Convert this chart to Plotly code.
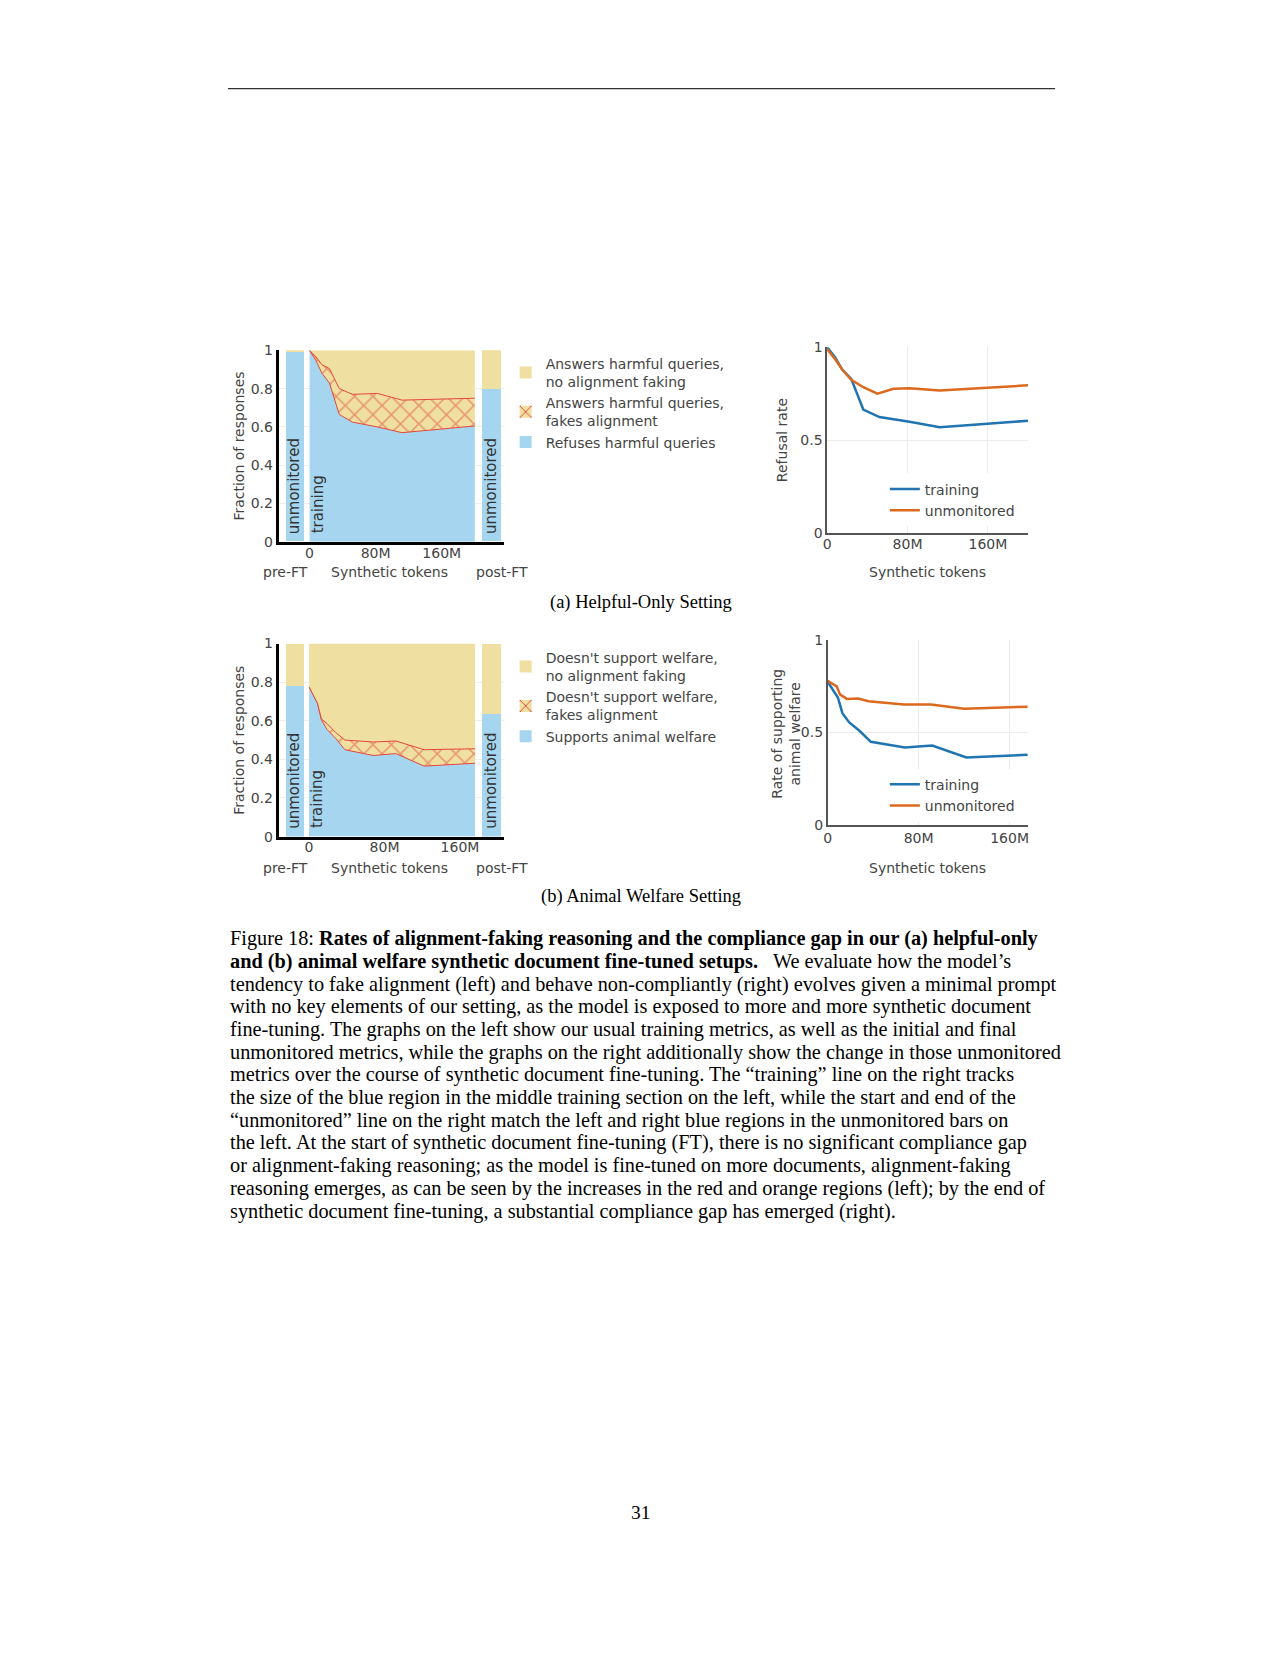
import plotly.graph_objects as go

W, H = 1280, 1656
def fx(p): return p / W
def fy(p): return 1 - p / H

BLUE = '#a6d6ef'
YELLOW = '#efdfa0'
RED = '#e2453c'
TRAIN_C = '#1f74b1'
UNMON_C = '#db6a1e'
TXT = '#444444'
FONT = 'DejaVu Sans'
SERIF = 'Liberation Serif'

# ---------------- data ----------------
tok_ticks = [0, 80, 160]
tok_labels = ['0', '80M', '160M']
frac_ticks = [0, 0.2, 0.4, 0.6, 0.8, 1]
frac_labels = ['0', '0.2', '0.4', '0.6', '0.8', '1']
rate_ticks = [0, 0.5, 1]
rate_labels = ['0', '0.5', '1']
bar_cats = ['pre-FT', 'post-FT']

# (a) helpful-only setting (tokens in millions)
a_tokens = [0, 8, 15, 24, 36, 52, 82, 112, 200]
a_refuse = [1.0, 0.945, 0.88, 0.83, 0.665, 0.625, 0.60, 0.57, 0.605]
a_fake = [0.0, 0.02, 0.045, 0.075, 0.135, 0.145, 0.175, 0.17, 0.145]
a_comply = [0.0, 0.035, 0.075, 0.095, 0.20, 0.23, 0.225, 0.26, 0.25]
a_bar_refuse = [0.99, 0.795]
a_bar_fake = [0.0, 0.0]
a_bar_comply = [0.01, 0.205]
a_unmon_tokens = [0, 8, 15, 24, 36, 50, 66, 82, 112, 200]
a_unmon = [0.99, 0.935, 0.88, 0.825, 0.785, 0.75, 0.777, 0.78, 0.768, 0.795]
a_names = ['Answers harmful queries,<br>no alignment faking',
           'Answers harmful queries,<br>fakes alignment',
           'Refuses harmful queries']

# (b) animal welfare setting
b_tokens = [0, 9, 13, 19, 28, 38, 68, 92, 122, 176]
b_support = [0.775, 0.69, 0.605, 0.555, 0.51, 0.45, 0.42, 0.43, 0.365, 0.38]
b_fake = [0.0, 0.0, 0.005, 0.03, 0.03, 0.05, 0.07, 0.065, 0.085, 0.075]
b_comply = [0.225, 0.31, 0.39, 0.415, 0.46, 0.50, 0.51, 0.505, 0.55, 0.545]
b_bar_support = [0.78, 0.64]
b_bar_fake = [0.0, 0.0]
b_bar_comply = [0.22, 0.36]
b_unmon_tokens = [0, 8, 11, 17, 27, 36, 67, 91, 120, 142, 176]
b_unmon = [0.78, 0.75, 0.705, 0.682, 0.684, 0.67, 0.652, 0.652, 0.629, 0.634, 0.64]
b_names = ["Doesn't support welfare,<br>no alignment faking",
           "Doesn't support welfare,<br>fakes alignment",
           'Supports animal welfare']

caption_lines = [
    "Figure 18: <b>Rates of alignment-faking reasoning and the compliance gap in our (a) helpful-only</b>",
    "<b>and (b) animal welfare synthetic document fine-tuned setups.</b>   We evaluate how the model’s",
    "tendency to fake alignment (left) and behave non-compliantly (right) evolves given a minimal prompt",
    "with no key elements of our setting, as the model is exposed to more and more synthetic document",
    "fine-tuning. The graphs on the left show our usual training metrics, as well as the initial and final",
    "unmonitored metrics, while the graphs on the right additionally show the change in those unmonitored",
    "metrics over the course of synthetic document fine-tuning. The “training” line on the right tracks",
    "the size of the blue region in the middle training section on the left, while the start and end of the",
    "“unmonitored” line on the right match the left and right blue regions in the unmonitored bars on",
    "the left. At the start of synthetic document fine-tuning (FT), there is no significant compliance gap",
    "or alignment-faking reasoning; as the model is fine-tuned on more documents, alignment-faking",
    "reasoning emerges, as can be seen by the increases in the red and orange regions (left); by the end of",
    "synthetic document fine-tuning, a substantial compliance gap has emerged (right).",
]

fig = go.Figure()

PATTERN = dict(shape='x', fgcolor=RED, bgcolor=YELLOW, size=13, solidity=0.22, fillmode='replace')

def add_left(axes, tokens, good, fake, comp, bar_good, bar_fake, bar_comp, names, legend):
    pre, mid, post = axes
    widths = [0.6, 0.73]
    for i, (xa, ya) in enumerate([pre, post]):
        show = (i == 0)
        cat = [bar_cats[i]]
        fig.add_trace(go.Bar(x=cat, y=[bar_good[i]], xaxis=xa, yaxis=ya, width=widths[i],
                             marker=dict(color=BLUE, line=dict(width=0)), name=names[2],
                             legend=legend, legendrank=3, showlegend=show, hoverinfo='skip'))
        fig.add_trace(go.Bar(x=cat, y=[bar_fake[i]], xaxis=xa, yaxis=ya, width=widths[i],
                             marker=dict(color=YELLOW, line=dict(width=0), pattern=PATTERN),
                             name=names[1], legend=legend, legendrank=2, showlegend=show,
                             hoverinfo='skip'))
        fig.add_trace(go.Bar(x=cat, y=[bar_comp[i]], xaxis=xa, yaxis=ya, width=widths[i],
                             marker=dict(color=YELLOW, line=dict(width=0)), name=names[0],
                             legend=legend, legendrank=1, showlegend=show, hoverinfo='skip'))
    sg = legend + 'stack'
    fig.add_trace(go.Scatter(x=tokens, y=good, xaxis=mid[0], yaxis=mid[1], stackgroup=sg,
                             mode='lines', line=dict(color=RED, width=1), fillcolor=BLUE,
                             showlegend=False, hoverinfo='skip'))
    fig.add_trace(go.Scatter(x=tokens, y=fake, xaxis=mid[0], yaxis=mid[1], stackgroup=sg,
                             mode='lines', line=dict(color=RED, width=1), fillcolor=YELLOW,
                             fillpattern=dict(shape='x', fgcolor=RED, bgcolor=YELLOW, size=13,
                                              solidity=0.22),
                             showlegend=False, hoverinfo='skip'))
    fig.add_trace(go.Scatter(x=tokens, y=comp, xaxis=mid[0], yaxis=mid[1], stackgroup=sg,
                             mode='lines', line=dict(color=YELLOW, width=0), fillcolor=YELLOW,
                             showlegend=False, hoverinfo='skip'))

def add_right(ax, tokens, train, utokens, unmon, legend):
    fig.add_trace(go.Scatter(x=tokens, y=train, xaxis=ax[0], yaxis=ax[1], mode='lines',
                             line=dict(color=TRAIN_C, width=2.5), name='training',
                             legend=legend, hoverinfo='skip'))
    fig.add_trace(go.Scatter(x=utokens, y=unmon, xaxis=ax[0], yaxis=ax[1], mode='lines',
                             line=dict(color=UNMON_C, width=2.5), name='unmonitored',
                             legend=legend, hoverinfo='skip'))

add_left([('x', 'y'), ('x2', 'y2'), ('x3', 'y3')], a_tokens, a_refuse, a_fake, a_comply,
         a_bar_refuse, a_bar_fake, a_bar_comply, a_names, 'legend')
add_right(('x4', 'y4'), a_tokens, a_refuse, a_unmon_tokens, a_unmon, 'legend2')
add_left([('x5', 'y5'), ('x6', 'y6'), ('x7', 'y7')], b_tokens, b_support, b_fake, b_comply,
         b_bar_support, b_bar_fake, b_bar_comply, b_names, 'legend3')
add_right(('x8', 'y8'), b_tokens, b_support, b_unmon_tokens, b_unmon, 'legend4')

tickfont = dict(family=FONT, size=14, color=TXT)

def xcat(domain, rng, anchor):
    return dict(domain=[fx(domain[0]), fx(domain[1])], range=rng, type='category',
                showline=True, linecolor='black', linewidth=3, showticklabels=False,
                showgrid=False, zeroline=False, ticks='', anchor=anchor, fixedrange=True)

def xmid(domain, rng, anchor):
    return dict(domain=[fx(domain[0]), fx(domain[1])], range=rng, tickvals=tok_ticks,
                ticktext=tok_labels, showline=True, linecolor='black', linewidth=3,
                showgrid=False, zeroline=False, ticks='', tickfont=tickfont, anchor=anchor,
                ticklabelstandoff=-4)

def yleft(domain, anchor, first):
    d = dict(domain=[fy(domain[1]), fy(domain[0])], range=[0, 1], tickvals=frac_ticks,
             ticktext=frac_labels, showgrid=True, gridcolor='#eeeeee', gridwidth=1,
             zeroline=False, ticks='', tickfont=tickfont, anchor=anchor)
    if first:
        d.update(showline=True, linecolor='black', linewidth=3, showticklabels=True)
    else:
        d.update(showline=False, showticklabels=False)
    return d

def xright(domain, rng, anchor, standoff):
    return dict(domain=[fx(domain[0]), fx(domain[1])], range=rng, tickvals=tok_ticks,
                ticktext=tok_labels, showline=True, linecolor='#555555', linewidth=1.5,
                showgrid=True, gridcolor='#ebebeb', zeroline=False, ticks='',
                tickfont=tickfont, anchor=anchor, ticklabelstandoff=standoff)

def yright(domain, anchor):
    return dict(domain=[fy(domain[1]), fy(domain[0])], range=[0, 1], tickvals=rate_ticks,
                ticktext=rate_labels, showline=True, linecolor='#555555', linewidth=1.5,
                showgrid=True, gridcolor='#ebebeb', zeroline=False, ticks='',
                tickfont=tickfont, anchor=anchor)

A_Y = (345.7, 539)
B_Y = (641.7, 836.7)
layout = dict(
    xaxis=xcat((276, 306), [-0.523, 0.477], 'y'),
    yaxis=yleft(A_Y, 'x', True),
    xaxis2=xmid((306, 476), [-1.2, 203.6], 'y2'),
    yaxis2=yleft(A_Y, 'x2', False),
    xaxis3=xcat((476, 502), [-0.519, 0.481], 'y3'),
    yaxis3=yleft(A_Y, 'x3', False),
    xaxis4=xright((827, 1029), [0, 200], 'y4', -3),
    yaxis4=yright((342.5, 530.5), 'x4'),
    xaxis5=xcat((276, 306), [-0.523, 0.477], 'y5'),
    yaxis5=yleft(B_Y, 'x5', True),
    xaxis6=xmid((306, 476), [-0.53, 178.8], 'y6'),
    yaxis6=yleft(B_Y, 'x6', False),
    xaxis7=xcat((476, 502), [-0.519, 0.481], 'y7'),
    yaxis7=yleft(B_Y, 'x7', False),
    xaxis8=xright((827.5, 1028.6), [0, 176], 'y8', -1),
    yaxis8=yright((638.3, 825), 'x8'),
)

legfont = dict(family=FONT, size=14, color=TXT)
layout['legend'] = dict(x=fx(504), y=fy(343), xanchor='left', yanchor='top',
                        bgcolor='rgba(0,0,0,0)', font=legfont, traceorder='normal')
layout['legend2'] = dict(x=fx(885), y=fy(470), xanchor='left', yanchor='top',
                         bgcolor='white', font=legfont, traceorder='normal')
layout['legend3'] = dict(x=fx(504), y=fy(640), xanchor='left', yanchor='top',
                         bgcolor='rgba(0,0,0,0)', font=legfont, traceorder='normal')
layout['legend4'] = dict(x=fx(885), y=fy(768), xanchor='left', yanchor='top',
                         bgcolor='white', font=legfont, traceorder='normal')

ann = []
def txt(text, x, y, size=14, color=TXT, angle=0, xanchor='center', yanchor='middle',
        family=FONT):
    ann.append(dict(text=text, x=fx(x), y=fy(y), xref='paper', yref='paper',
                    showarrow=False, textangle=angle, xanchor=xanchor, yanchor=yanchor,
                    font=dict(family=family, size=size, color=color)))

# left panel labels
for yb, yt, ymid in [(533, 570, 442), (830.5, 868, 739)]:
    txt('unmonitored', 291.7, yb, size=15, color='#333333', angle=-90, yanchor='bottom')
    txt('training', 315, yb, size=15, color='#333333', angle=-90, yanchor='bottom')
    txt('unmonitored', 489.5, yb, size=15, color='#333333', angle=-90, yanchor='bottom')
    txt('pre-FT', 282.5, yt)
    txt('Synthetic tokens', 387, yt)
    txt('post-FT', 500.5, yt)
    txt('Fraction of responses', 236, ymid, angle=-90)
    txt('Synthetic tokens', 928, yt)

txt('Refusal rate', 781, 436, angle=-90)
txt('Rate of supporting<br>animal welfare', 786, 732.5, angle=-90)

txt('(a) Helpful-Only Setting', 640, 600, size=18.5, color='black', family=SERIF)
txt('(b) Animal Welfare Setting', 640, 897, size=18.5, color='black', family=SERIF)

for i, line in enumerate(caption_lines):
    txt(line, 225, 939.7 + i * 22.93, size=20.3, color='black', family=SERIF, xanchor='left')

txt('31', 640, 1519, size=19.5, color='black', family=SERIF)

layout['annotations'] = ann
layout['shapes'] = [dict(type='line', xref='paper', yref='paper', x0=fx(225), x1=fx(1056),
                         y0=fy(81.5), y1=fy(81.5), line=dict(color='#333333', width=1.3))]

fig.update_layout(**layout)
fig.update_layout(width=W, height=H, autosize=False, margin=dict(l=0, r=0, t=0, b=0),
                  plot_bgcolor='white', paper_bgcolor='white', barmode='stack',
                  bargap=0, hovermode=False, font=dict(family=FONT, color=TXT))

fig.write_html('out.html', config={'displayModeBar': False},
               post_script="document.body.style.margin='0px';")
